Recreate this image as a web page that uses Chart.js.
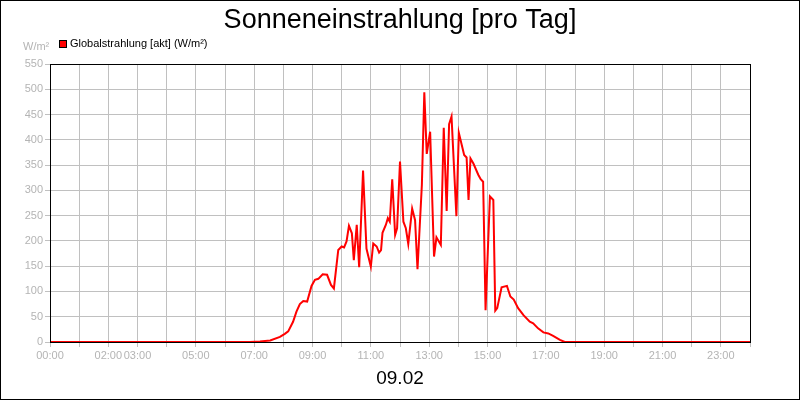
<!DOCTYPE html>
<html>
<head>
<meta charset="utf-8">
<script src="https://cdn.jsdelivr.net/npm/chart.js@4/dist/chart.umd.min.js"></script>
<style>
    body { margin: 0; background: #fff; }
    #chart { display: block; }
</style>
</head>
<body>
<canvas id="chart" width="800" height="400"></canvas>
<script>
// Data (time of day, W/m²)
const times = [
    '00:00', '06:51', '07:12', '07:33', '07:53', '08:03', '08:10', '08:20', '08:27', '08:34',
    '08:41', '08:49', '08:58', '09:05', '09:12', '09:21', '09:30', '09:38', '09:44', '09:53',
    '10:00', '10:05', '10:10', '10:15', '10:21', '10:25', '10:31', '10:36', '10:44', '10:51',
    '11:00', '11:05', '11:12', '11:17', '11:21', '11:24', '11:31', '11:35', '11:39', '11:44',
    '11:50', '11:54', '12:00', '12:07', '12:12', '12:17', '12:25', '12:31', '12:36', '12:45',
    '12:50', '12:55', '13:02', '13:10', '13:15', '13:24', '13:30', '13:36', '13:41', '13:46',
    '13:56', '14:01', '14:12', '14:17', '14:21', '14:25', '14:31', '14:41', '14:46', '14:51',
    '14:56', '15:05', '15:12', '15:16', '15:20', '15:29', '15:40', '15:47', '15:54', '16:03',
    '16:14', '16:27', '16:34', '16:44', '16:55', '17:05', '17:15', '17:29', '17:39', '24:00'
];
const globalstrahlung = [
    0, 0, 1, 3, 10, 16, 21, 40, 60, 75,
    81, 80, 111, 123, 125, 134, 133, 113, 106, 182,
    189, 187, 199, 230, 215, 162, 232, 148, 339, 185,
    149, 195, 189, 177, 182, 216, 232, 245, 238, 322,
    212, 225, 357, 238, 225, 194, 264, 241, 144, 311,
    494, 372, 416, 169, 207, 192, 424, 259, 431, 446,
    249, 414, 370, 365, 281, 363, 353, 331, 322, 317,
    63, 288, 281, 62, 67, 108, 111, 90, 84, 67,
    53, 40, 37, 27, 19, 17, 12, 4, 0, 0
];
const xTickLabels = ['00:00', '02:00', '03:00', '05:00', '07:00', '09:00', '11:00',
    '13:00', '15:00', '17:00', '19:00', '21:00', '23:00'];

const chartTitle = 'Sonneneinstrahlung [pro Tag]';
const dateLabel = '09.02';
const seriesName = 'Globalstrahlung [akt] (W/m²)';
const unitLabel = 'W/m²';

const FONT = '"Liberation Sans", Arial, sans-serif';
const GRID = '#c0c0c0';
const TICK = '#b4b4b4';

function toHours(t) {
    const [h, m] = t.split(':').map(Number);
    return h + m / 60;
}

// Title, legend, unit, date and frames
const decorations = {
    id: 'decorations',
    beforeDraw(chart) {
        const ctx = chart.ctx;
        ctx.save();
        ctx.fillStyle = '#fff';
        ctx.fillRect(0, 0, chart.width, chart.height);
        ctx.restore();
    },
    afterDraw(chart) {
        const ctx = chart.ctx;
        const area = chart.chartArea;
        ctx.save();

        ctx.fillStyle = '#000';
        ctx.textAlign = 'center';
        ctx.textBaseline = 'alphabetic';
        ctx.font = '27px ' + FONT;
        ctx.fillText(chartTitle, 400, 28);

        ctx.font = '19px ' + FONT;
        ctx.fillText(dateLabel, 400, 384);

        // legend
        ctx.fillStyle = '#ff0000';
        ctx.fillRect(59.5, 40.5, 7, 7);
        ctx.strokeStyle = '#000';
        ctx.lineWidth = 1;
        ctx.strokeRect(59.5, 40.5, 7, 7);
        ctx.fillStyle = '#000';
        ctx.textAlign = 'left';
        ctx.textBaseline = 'middle';
        ctx.font = '11px ' + FONT;
        ctx.fillText(seriesName, 70, 44);

        ctx.fillStyle = TICK;
        ctx.fillText(unitLabel, 23, 47);

        // plot frame
        ctx.strokeStyle = '#000';
        ctx.lineWidth = 1;
        ctx.strokeRect(Math.round(area.left) + 0.5, Math.round(area.top) + 0.5,
            Math.round(area.right - area.left), Math.round(area.bottom - area.top));

        // outer frame
        ctx.strokeRect(0.5, 0.5, chart.width - 1, chart.height - 1);
        ctx.restore();
    }
};

const ctx = document.getElementById('chart').getContext('2d');
new Chart(ctx, {
    type: 'line',
    data: {
        datasets: [{
            label: seriesName,
            data: times.map((t, i) => ({ x: toHours(t), y: globalstrahlung[i] })),
            borderColor: '#ff0000',
            borderWidth: 2,
            pointRadius: 0,
            tension: 0,
            fill: false
        }]
    },
    options: {
        responsive: false,
        animation: false,
        devicePixelRatio: 1,
        layout: {
            padding: { left: 0, right: 50, top: 64, bottom: 38 }
        },
        plugins: {
            legend: { display: false },
            title: { display: false },
            tooltip: { enabled: false }
        },
        scales: {
            x: {
                type: 'linear',
                min: 0,
                max: 24,
                afterFit: (scale) => { scale.height = 20; },
                grid: {
                    color: GRID,
                    tickLength: 5,
                    tickColor: GRID
                },
                border: { display: false },
                ticks: {
                    stepSize: 1,
                    autoSkip: false,
                    maxRotation: 0,
                    padding: 2,
                    color: TICK,
                    font: { size: 11, family: FONT },
                    callback: (value) => {
                        const label = String(value).padStart(2, '0') + ':00';
                        return xTickLabels.includes(label) ? label : '';
                    }
                }
            },
            y: {
                min: 0,
                max: 550,
                afterFit: (scale) => { scale.width = 50; },
                grid: {
                    color: GRID,
                    tickLength: 5,
                    tickColor: GRID
                },
                border: { display: false },
                ticks: {
                    stepSize: 50,
                    padding: 2,
                    color: TICK,
                    font: { size: 11, family: FONT }
                }
            }
        }
    },
    plugins: [decorations]
});
</script>
</body>
</html>
